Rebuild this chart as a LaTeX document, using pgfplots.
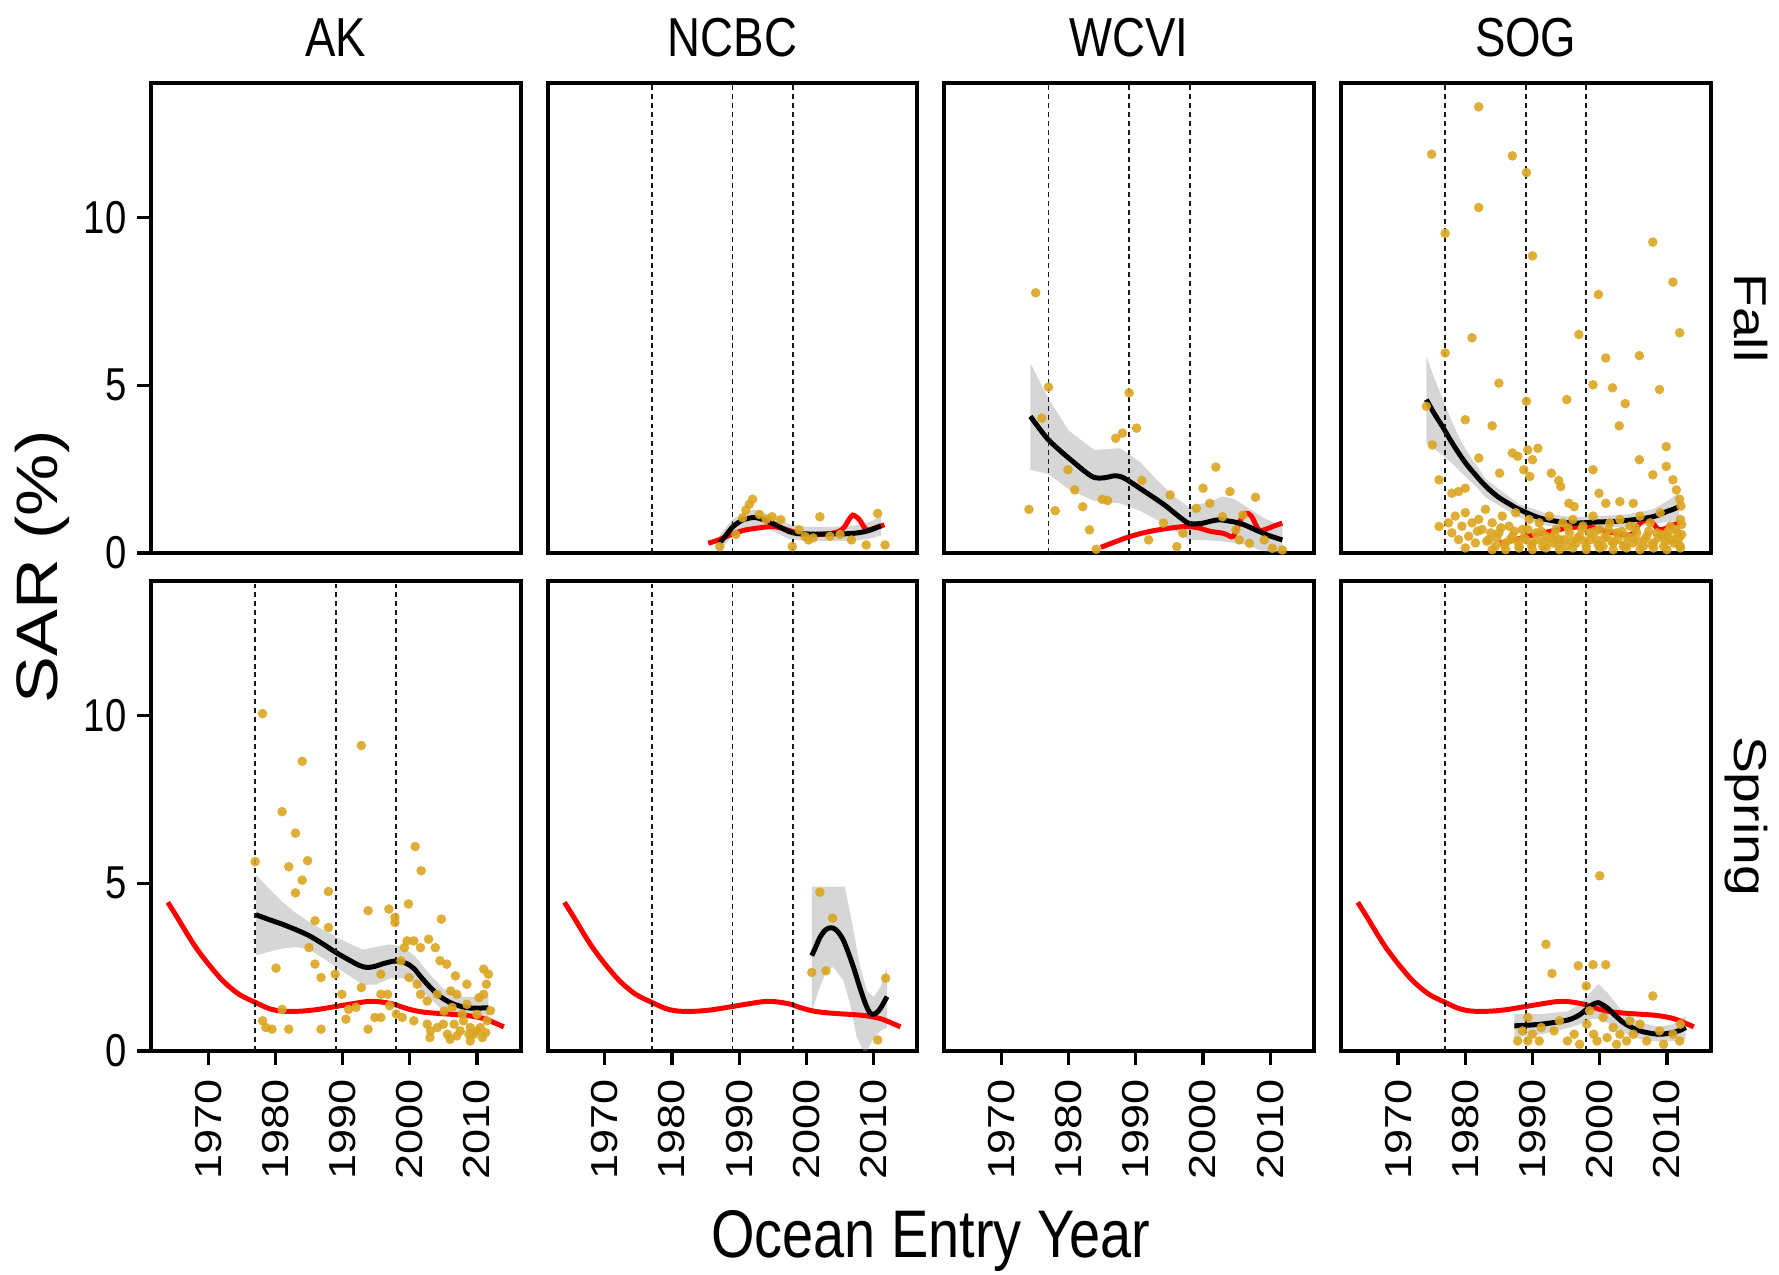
\documentclass[border=0pt]{standalone}
\usepackage{fontspec}
\setmainfont{Liberation Sans}
% the panels are drawn slightly squeezed horizontally, so text is condensed
% when it runs across and extended when it runs up and down
\newfontfamily\hfont{Liberation Sans}[FakeStretch=0.83]
\newfontfamily\vfont{Liberation Sans}[FakeStretch=1.2]
\usepackage{pgfplots}
\usepackage{pgfplotstable}
\pgfplotsset{compat=1.18}
\usepgfplotslibrary{groupplots}

\definecolor{gold}{RGB}{218,165,32}
\definecolor{refred}{RGB}{255,0,0}

\pgfplotsset{
  obs/.style={only marks, mark=*, mark size=1.35bp, color=gold,
    mark options={draw=gold, fill=gold, draw opacity=0, fill opacity=0.9}},
  band/.style={draw=none, fill=black!40, fill opacity=0.4},
  fit/.style={black, line width=1.4bp, smooth, no marks},
  ref/.style={refred, line width=1.4bp, smooth, no marks},
  regime/.style={black!90, line width=0.5bp, dash pattern=on 1.4bp off 1.1bp, no marks},
}

% regime-shift years
\newcommand{\regimes}{%
  \addplot[regime] coordinates {(1977,0) (1977,14)};
  \addplot[regime] coordinates {(1989,0) (1989,14)};
  \addplot[regime] coordinates {(1998,0) (1998,14)};
}

% reference smoother shared by the spring panels
\pgfplotstableread{
year sar
1964.0 4.43
1965.5 3.95
1967.0 3.45
1968.3 3.05
1970.0 2.60
1972.2 2.09
1974.6 1.69
1977.1 1.44
1979.0 1.27
1980.5 1.20
1982.0 1.18
1984.0 1.19
1986.0 1.23
1987.9 1.29
1990.0 1.36
1991.8 1.42
1993.5 1.47
1994.8 1.48
1996.5 1.44
1997.7 1.39
1999.0 1.30
2000.6 1.21
2002.0 1.16
2003.6 1.13
2005.0 1.11
2006.5 1.09
2008.0 1.07
2009.5 1.03
2010.5 0.99
2011.4 0.94
2012.5 0.85
2014.0 0.72
}\springref

\begin{document}
\begin{tikzpicture}
\begin{groupplot}[
  group style={group size=4 by 2, horizontal sep=7.59bp, vertical sep=7.87bp},
  scale only axis, width=103.9bp, height=132.1bp,
  xmin=1961.5, xmax=2016.5, ymin=0, ymax=14,
  xtick={1970,1980,1990,2000,2010}, ytick={0,5,10},
  tick align=outside, tick pos=left,
  major tick length=3.9bp,
  every tick/.style={black, line width=0.9bp},
  axis line style={line width=1.1bp},
  /pgf/number format/assume math mode=true,
  yticklabel style={font=\hfont\fontsize{13}{13}\selectfont, inner xsep=2.8bp, inner ysep=0pt},
  xticklabel style={font=\vfont\fontsize{10.6}{10.6}\selectfont, rotate=90, anchor=east,
    inner xsep=3.9bp, inner ysep=0pt, /pgf/number format/1000 sep={}},
]

% ---------------- Fall ----------------
\nextgroupplot[xmajorticks=false]
\coordinate (tl) at (rel axis cs:0,1);
\coordinate (s1) at (rel axis cs:0.5,1);

\nextgroupplot[xmajorticks=false, ymajorticks=false]
\coordinate (s2) at (rel axis cs:0.5,1);
\addplot[obs] coordinates {
(1987.1,0.19) (1989.5,0.55) (1990.5,1.05) (1991.0,1.28) (1991.5,1.45) (1992.0,1.60)
(1993.0,1.15) (1994.0,1.00) (1994.9,1.08) (1996.2,0.99) (1997.9,0.19) (1998.9,0.69)
(1999.8,0.49) (2000.3,0.39) (2001.0,0.45) (2002.0,1.08) (2003.5,0.50) (2005.0,0.55)
(2006.7,0.39) (2008.9,0.24) (2010.6,1.18) (2011.7,0.24)};
\addplot[band] coordinates {
(1987.1,0.55) (1989.1,1.02) (1992.2,1.30) (1994.9,1.12) (1997.4,0.86) (1999.8,0.78)
(2003.8,0.78) (2007.2,0.82) (2009.6,0.94) (2011.1,1.10)
(2011.1,0.52) (2009.6,0.44) (2007.2,0.36) (2003.8,0.36) (1999.8,0.36) (1997.4,0.42)
(1994.9,0.66) (1992.2,0.82) (1989.1,0.56) (1987.1,0.03)};
\addplot[ref] coordinates {
(1985.4,0.29) (1986.8,0.38) (1988.1,0.49) (1989.5,0.60) (1991.0,0.69) (1993.0,0.75)
(1994.9,0.79) (1996.5,0.73) (1997.9,0.64) (1999.8,0.54) (2001.5,0.55) (2003.8,0.59)
(2005.0,0.66) (2005.7,0.79) (2006.4,1.02) (2006.9,1.13) (2007.4,1.08) (2007.9,0.99)
(2008.5,0.80) (2008.9,0.69) (2009.5,0.70) (2010.1,0.74) (2011.6,0.84)};
\addplot[fit] coordinates {
(1987.1,0.29) (1988.0,0.52) (1989.1,0.79) (1990.5,0.98) (1992.2,1.06) (1993.5,1.00)
(1994.9,0.89) (1996.2,0.76) (1997.4,0.64) (1998.6,0.58) (1999.8,0.57) (2002.0,0.56)
(2003.8,0.57) (2005.5,0.57) (2007.2,0.59) (2008.5,0.63) (2009.6,0.69) (2011.1,0.81)};
\regimes

\nextgroupplot[xmajorticks=false, ymajorticks=false]
\coordinate (s3) at (rel axis cs:0.5,1);
\addplot[obs] coordinates {
(1975.1,7.75) (1977.0,4.94) (1989.0,4.77) (1976.0,4.02) (1987.0,3.42) (1988.0,3.57)
(1990.1,3.72) (1979.9,2.48) (1980.9,1.88) (1974.1,1.30) (1978.0,1.26) (1982.1,1.38)
(1985.0,1.60) (1985.8,1.56) (1983.1,0.69) (1990.9,2.16) (1995.1,1.73) (2001.9,2.56)
(2000.0,1.93) (1999.0,1.33) (2001.0,1.48) (2004.0,1.83) (2007.8,1.66) (2002.9,1.08)
(1984.1,0.11) (1991.9,0.39) (1994.1,0.89) (1996.1,0.19) (1997.0,0.59) (2005.4,0.39)
(2006.9,0.29) (2009.1,0.39) (2010.3,0.14) (2011.8,0.09) (2005.9,1.13) (2004.9,0.69)};
\addplot[band] coordinates {
(1974.3,5.66) (1977.0,4.60) (1980.0,3.65) (1983.8,3.07) (1987.7,3.12) (1990.7,2.70)
(1993.0,2.20) (1995.6,1.70) (1997.8,1.38) (2000.5,1.50) (2002.9,1.68) (2004.5,1.62)
(2006.3,1.40) (2009.0,1.05) (2011.8,0.79)
(2011.8,0.00) (2009.0,0.05) (2006.3,0.25) (2002.9,0.35) (2000.5,0.38) (1997.8,0.40)
(1995.6,0.70) (1993.0,1.00) (1990.7,1.25) (1987.7,1.48) (1983.8,1.55) (1980.0,1.90)
(1977.0,2.35) (1974.3,2.48)};
\addplot[ref] coordinates {
(1984.8,0.17) (1986.5,0.30) (1988.5,0.45) (1990.5,0.57) (1992.5,0.66) (1995.0,0.74)
(1997.5,0.79) (1999.5,0.74) (2001.0,0.65) (2002.9,0.59) (2003.5,0.55) (2004.5,0.50)
(2005.5,0.95) (2006.3,1.18) (2007.2,1.10) (2008.3,0.69) (2009.5,0.72) (2010.5,0.80)
(2011.8,0.89)};
\addplot[fit] coordinates {
(1974.3,4.07) (1975.6,3.72) (1977.0,3.37) (1979.0,3.00) (1980.9,2.68) (1982.4,2.43)
(1983.8,2.25) (1985.3,2.24) (1986.8,2.30) (1987.8,2.27) (1988.7,2.18) (1990.2,1.98)
(1991.7,1.78) (1993.2,1.58) (1994.6,1.38) (1996.2,1.12) (1997.8,0.89) (1999.0,0.87)
(2000.0,0.89) (2001.2,0.95) (2002.4,0.99) (2003.9,0.95) (2005.4,0.89) (2006.6,0.80)
(2007.8,0.69) (2009.8,0.52) (2011.8,0.39)};
\regimes

\nextgroupplot[xmajorticks=false, ymajorticks=false]
\coordinate (s4) at (rel axis cs:0.5,1);
\coordinate (r1) at (rel axis cs:1,0.5);
\addplot[obs] coordinates {
(1982.0,13.29) (1975.0,11.88) (1987.0,11.83) (1989.1,11.33) (1982.0,10.29) (1977.0,9.52)
(2007.9,9.26) (1990.0,8.85) (2010.9,8.07) (1999.8,7.70) (2011.9,6.56) (1981.0,6.41)
(1996.9,6.51) (1977.0,5.96) (2000.9,5.81) (2005.9,5.88) (1985.0,5.06) (1999.0,5.01)
(2001.9,4.92) (2008.9,4.87) (1995.1,4.57) (1989.1,4.52) (2003.8,4.45) (1974.2,4.37)
(1980.0,3.97) (2002.9,3.79) (1984.0,3.79) (1975.1,3.22) (2009.9,3.17) (1987.0,2.98)
(1987.8,2.88) (1989.3,3.07) (1990.8,3.12) (1990.0,2.78) (1992.8,2.38) (1993.9,2.16)
(2005.9,2.78) (2009.9,2.58) (1999.0,2.48) (2007.9,2.33) (1976.1,2.18) (1982.0,2.83)
(1985.1,2.38) (1988.7,2.48) (1989.6,2.28) (1994.2,1.98) (1999.9,1.78) (2000.9,1.48)
(2003.0,1.53) (2005.0,1.48) (1978.0,1.78) (1979.0,1.83) (1995.4,1.48) (1996.2,1.38)
(2010.9,2.18) (2011.4,1.88) (1976.1,0.79) (1980.0,1.93)
(1977.5,0.9) (1978.0,0.6) (1978.5,1.1) (1979.0,0.4) (1979.5,0.8) (1980.0,1.2) (1980.5,0.5)
(1981.0,0.9) (1981.5,0.3) (1982.0,1.0) (1982.5,0.7) (1983.0,1.3) (1983.5,0.4) (1984.0,0.9)
(1984.5,0.2) (1985.0,0.6) (1985.5,1.1) (1986.0,0.3) (1986.5,0.8) (1987.0,0.5) (1987.5,1.2)
(1988.0,0.2) (1988.5,0.7) (1989.0,0.4) (1989.5,1.0) (1990.0,0.3) (1990.5,0.6) (1991.0,0.9)
(1991.5,0.2) (1992.0,0.5) (1992.5,1.1) (1993.0,0.3) (1993.5,0.7) (1994.0,0.4) (1994.5,0.9)
(1995.0,0.2) (1995.5,0.6) (1996.0,1.0) (1996.5,0.3) (1997.0,0.5) (1997.5,0.8) (1998.0,0.2)
(1998.5,0.6) (1999.0,1.1) (1999.5,0.4) (2000.0,0.7) (2000.5,0.2) (2001.0,0.5) (2001.5,0.9)
(2002.0,0.3) (2002.5,0.6) (2003.0,1.0) (2003.5,0.2) (2004.0,0.5) (2004.5,0.8) (2005.0,0.3)
(2005.5,0.6) (2006.0,1.1) (2006.5,0.2) (2007.0,0.5) (2007.5,0.9) (2008.0,0.3) (2008.5,0.6)
(2009.0,1.2) (2009.5,0.2) (2010.0,0.5) (2010.5,0.8) (2011.0,0.3) (2011.5,0.6) (2012.0,1.0)
(2012.0,0.2) (2011.8,0.45) (2012.1,1.4) (2011.9,1.6)
(1984.0,0.1) (1986.0,0.1) (1990.0,0.1) (1994.0,0.1) (1998.0,0.1) (2002.0,0.1) (2006.0,0.1)
(2010.0,0.1) (1980.0,0.15) (1988.0,0.15) (1996.0,0.15) (2004.0,0.15) (2008.0,0.15)
(1992.0,0.15) (2000.0,0.15) (2012.0,0.15)
(1983.2,0.35) (1984.7,0.45) (1985.8,0.25) (1986.7,0.40) (1987.8,0.35) (1988.7,0.45)
(1989.8,0.25) (1990.7,0.40) (1991.8,0.35) (1992.7,0.45) (1993.8,0.25) (1994.7,0.40)
(1995.8,0.35) (1996.7,0.45) (1997.8,0.35) (1998.7,0.40) (1999.8,0.25) (2000.7,0.45)
(2001.8,0.35) (2002.7,0.40) (2003.8,0.25) (2004.7,0.45) (2005.8,0.35) (2006.7,0.40)
(2007.8,0.25) (2008.7,0.45) (2009.8,0.35) (2010.7,0.40) (2011.7,0.25) (2012.2,0.55)
(2012.2,0.85) (2011.3,0.70) (2010.2,0.65) (2009.3,0.55) (2007.3,0.65) (2005.3,0.75)
(2003.3,0.65) (2001.3,0.70) (1999.3,0.65) (1997.3,0.70) (1995.3,0.75) (1993.3,0.55)
(1991.3,0.65) (1989.3,0.70) (1987.3,0.65) (1985.3,0.75) (1983.8,0.60) (1981.8,0.65)};
\addplot[band] coordinates {
(1974.2,5.87) (1975.4,5.20) (1976.6,4.62) (1977.8,4.01) (1979.0,3.48) (1980.2,3.04)
(1981.5,2.66) (1983.0,2.22) (1985.0,1.90) (1988.0,1.46) (1992.0,1.18) (1996.0,1.06)
(2000.0,1.10) (2004.0,1.15) (2007.9,1.30) (2009.9,1.53) (2011.8,1.80)
(2011.8,0.96) (2009.9,0.93) (2007.9,0.86) (2004.0,0.79) (2000.0,0.76) (1996.0,0.72)
(1992.0,0.82) (1988.0,1.06) (1985.0,1.42) (1983.0,1.66) (1981.5,2.00) (1980.2,2.24)
(1979.0,2.48) (1977.8,2.71) (1976.6,2.92) (1975.4,3.10) (1974.2,3.27)};
\addplot[ref] coordinates {
(1985.1,0.29) (1987.3,0.39) (1989.3,0.50) (1991.3,0.59) (1993.2,0.67) (1995.2,0.74)
(1998.1,0.79) (2001.1,0.64) (2004.0,0.54) (2005.0,0.59) (2006.0,0.89) (2007.4,0.99)
(2008.9,0.69) (2010.9,0.84) (2011.9,0.89)};
\addplot[fit] coordinates {
(1974.2,4.57) (1975.4,4.15) (1976.6,3.77) (1977.8,3.36) (1979.0,2.98) (1980.2,2.64)
(1981.5,2.33) (1982.7,2.06) (1983.9,1.83) (1985.1,1.64) (1986.4,1.48) (1987.6,1.34)
(1988.8,1.23) (1990.0,1.12) (1991.3,1.03) (1992.5,0.98) (1993.7,0.94) (1995.0,0.91)
(1996.2,0.89) (1997.6,0.90) (1999.1,0.92) (2000.5,0.93) (2002.0,0.94) (2003.5,0.96)
(2005.0,0.99) (2006.5,1.03) (2007.9,1.08) (2009.0,1.15) (2009.9,1.23) (2010.9,1.30)
(2011.8,1.38)};
\regimes

% ---------------- Spring ----------------
\nextgroupplot[]
\addplot[obs] coordinates {
(1977.0,5.64) (1978.1,10.05) (1978.1,0.90) (1978.6,0.70) (1979.5,0.65) (1980.1,2.47)
(1981.0,7.13) (1981.0,1.24) (1982.0,5.49) (1982.0,0.65) (1983.0,6.49) (1983.0,4.71)
(1984.0,8.63) (1984.0,5.09) (1984.8,5.67) (1985.0,3.08) (1985.9,3.88) (1985.9,2.59)
(1986.8,2.19) (1986.8,0.65) (1987.9,4.75) (1987.9,3.68) (1988.9,2.29) (1989.9,1.69)
(1990.9,1.24) (1992.8,9.10) (1992.8,1.89) (1993.8,4.18) (1993.8,0.65) (1994.8,1.00)
(1995.7,1.00) (1995.7,1.69) (1995.7,2.29) (1996.7,1.69) (1996.9,4.23) (1997.8,3.83)
(1997.8,3.98) (1998.7,2.69) (1999.2,3.08) (1999.6,3.28) (1999.8,4.38) (1999.9,2.19)
(2000.6,3.28) (2000.6,0.90) (2000.8,6.09) (2001.1,1.99) (2001.6,3.08) (2001.6,1.69)
(2001.7,5.37) (2002.6,1.49) (2002.6,0.80) (2002.8,3.33) (2003.1,0.60) (2003.8,3.08)
(2004.1,1.69) (2004.1,0.70) (2004.5,2.69) (2004.7,3.93) (2005.1,1.19) (2005.5,2.59)
(2005.6,0.50) (2006.1,1.79) (2006.6,0.80) (2006.8,2.24) (2007.0,1.69) (2007.5,0.60)
(2008.0,0.90) (2008.5,1.99) (2008.5,1.39) (2009.0,0.70) (2009.5,0.50) (2010.0,1.09)
(2010.3,1.59) (2010.5,0.70) (2011.0,2.44) (2011.0,1.69) (2011.4,1.99) (2011.7,2.29)
(1990.5,0.95) (1992.0,1.30) (1997.0,1.35) (1998.0,1.10) (2003.0,0.40) (2006.0,0.35)
(2007.0,0.45) (2009.0,0.30) (2010.8,0.40) (2011.5,0.90) (2012.0,1.20) (1998.9,1.00)
(2005.0,0.80) (2006.3,1.30) (2007.8,1.10) (2008.8,0.50) (2010.0,0.60) (2011.3,0.55)};
\addplot[band] coordinates {
(1977.1,5.25) (1979.0,4.85) (1981.0,4.45) (1983.0,4.12) (1985.0,3.85) (1987.0,3.62)
(1989.0,3.40) (1991.0,3.20) (1993.0,3.02) (1995.0,3.10) (1997.0,3.18) (1998.8,3.12)
(2000.8,2.82) (2002.8,2.32) (2005.0,1.86) (2008.0,1.61) (2010.5,1.60) (2011.7,1.66)
(2011.7,0.93) (2010.5,0.97) (2008.0,1.01) (2005.0,1.20) (2002.8,1.60) (2000.8,2.02)
(1998.8,2.18) (1997.0,2.16) (1995.0,1.98) (1993.0,1.97) (1991.0,2.24) (1989.0,2.50)
(1987.0,2.78) (1985.0,3.03) (1983.0,3.10) (1981.0,3.05) (1979.0,2.95) (1977.1,2.85)};
\addplot[ref] table {\springref};
\addplot[fit] coordinates {
(1977.1,4.06) (1979.0,3.92) (1981.0,3.78) (1983.0,3.62) (1985.0,3.44) (1987.0,3.20)
(1988.9,2.95) (1990.9,2.72) (1992.5,2.55) (1993.6,2.49) (1994.8,2.52) (1996.0,2.60)
(1997.7,2.68) (1998.8,2.66) (1999.8,2.58) (2000.8,2.42) (2001.6,2.22) (2002.8,1.95)
(2004.1,1.69) (2005.3,1.52) (2006.5,1.40) (2008.0,1.31) (2009.0,1.28) (2010.5,1.28)
(2011.7,1.29)};
\regimes

\nextgroupplot[ymajorticks=false]
\addplot[obs] coordinates {
(2002.0,4.73) (2003.9,3.96) (2000.8,2.34) (2002.9,2.39) (2011.8,2.17) (2010.6,0.33)};
\addplot[band] coordinates {
(2000.8,4.90) (2005.7,4.90) (2007.0,3.60) (2008.0,2.50) (2009.0,1.80) (2010.0,1.60)
(2011.0,1.90) (2012.0,2.50)
(2012.0,0.70) (2011.0,0.60) (2010.0,0.40) (2009.0,0.00) (2008.5,0.00) (2007.5,0.40)
(2006.5,1.40) (2005.5,2.10) (2004.0,2.50) (2003.0,2.40) (2002.0,1.90) (2000.8,1.20)};
\addplot[ref] table {\springref};
\addplot[fit] coordinates {
(2000.8,2.84) (2001.5,3.15) (2002.0,3.38) (2002.7,3.58) (2003.3,3.66) (2004.0,3.66)
(2004.7,3.55) (2005.5,3.30) (2006.2,2.95) (2007.0,2.50) (2007.7,2.05) (2008.4,1.62)
(2008.9,1.35) (2009.4,1.15) (2009.9,1.09) (2010.5,1.15) (2011.1,1.30) (2012.0,1.62)};
\regimes

\nextgroupplot[ymajorticks=false]

\nextgroupplot[ymajorticks=false]
\coordinate (r2) at (rel axis cs:1,0.5);
\addplot[obs] coordinates {
(2000.0,5.22) (1992.0,3.18) (1992.9,2.31) (1996.8,2.54) (1999.0,2.57) (2000.9,2.57)
(1998.0,1.94) (2007.9,1.64) (1987.8,0.30) (1989.3,0.30) (1991.0,0.30) (1991.3,0.70)
(1989.3,1.00) (1993.2,0.60) (1995.2,0.30) (1996.2,0.50) (1998.1,0.80) (1999.1,0.50)
(1999.6,0.30) (2001.1,0.40) (2002.0,0.70) (2003.0,0.50) (2004.0,0.30) (2005.0,0.50)
(2006.0,0.80) (2007.0,0.30) (2011.9,0.30) (2010.9,0.50) (2008.9,0.60) (1988.5,0.60)
(1990.0,0.50) (1994.0,0.90) (1997.0,0.20) (1998.5,1.20) (2000.5,1.00) (2002.5,0.20)
(2004.5,0.90) (2009.5,0.20) (2012.0,0.80)};
\addplot[band] coordinates {
(1987.3,1.10) (1991.3,1.10) (1995.2,1.18) (1997.1,1.40) (1998.6,1.75) (1999.8,2.00)
(2001.1,1.75) (2003.5,1.15) (2006.0,0.85) (2008.9,0.72) (2011.0,0.80) (2012.8,1.05)
(2012.8,0.35) (2011.0,0.30) (2008.9,0.28) (2006.0,0.35) (2003.5,0.55) (2001.1,0.85)
(1999.8,0.95) (1998.6,0.95) (1997.1,0.80) (1995.2,0.68) (1991.3,0.50) (1987.3,0.40)};
\addplot[ref] table {\springref};
\addplot[fit] coordinates {
(1987.3,0.75) (1989.3,0.77) (1991.3,0.80) (1993.2,0.85) (1995.2,0.92) (1996.3,1.00)
(1997.1,1.09) (1997.9,1.22) (1998.6,1.34) (1999.2,1.41) (1999.8,1.44) (2000.4,1.38)
(2001.1,1.29) (2002.3,1.06) (2003.5,0.85) (2004.8,0.70) (2006.0,0.60) (2007.5,0.53)
(2008.9,0.50) (2010.0,0.52) (2010.9,0.55) (2012.0,0.62) (2012.8,0.70)};
\regimes
\end{groupplot}

% facet strips
\foreach \c/\t in {s1/AK, s2/NCBC, s3/WCVI, s4/SOG}
  \node[anchor=base, inner sep=0pt, font=\hfont\fontsize{15.5}{15.5}\selectfont]
    at ([yshift=7.4bp]\c) {\t};
\node[anchor=base, rotate=-90, inner sep=0pt, font=\vfont\fontsize{13}{13}\selectfont]
  at ([xshift=6.7bp]r1) {Fall};
\node[anchor=base, rotate=-90, inner sep=0pt, font=\vfont\fontsize{13}{13}\selectfont]
  at ([xshift=6.7bp]r2) {Spring};

% axis titles
\node[anchor=base, rotate=90, inner sep=0pt, font=\vfont\fontsize{16.5}{16.5}\selectfont]
  at ([xshift=-26.14bp, yshift=-136.03bp]tl) {SAR (\%)};
\node[anchor=base, inner sep=0pt, font=\hfont\fontsize{19}{19}\selectfont]
  at ([xshift=219.19bp, yshift=-330.2bp]tl) {Ocean Entry Year};

\pgfresetboundingbox
\path[use as bounding box] ([xshift=-42.44bp, yshift=23.33bp]tl)
  rectangle ([xshift=457.56bp, yshift=-335.01bp]tl);
\end{tikzpicture}
\end{document}
